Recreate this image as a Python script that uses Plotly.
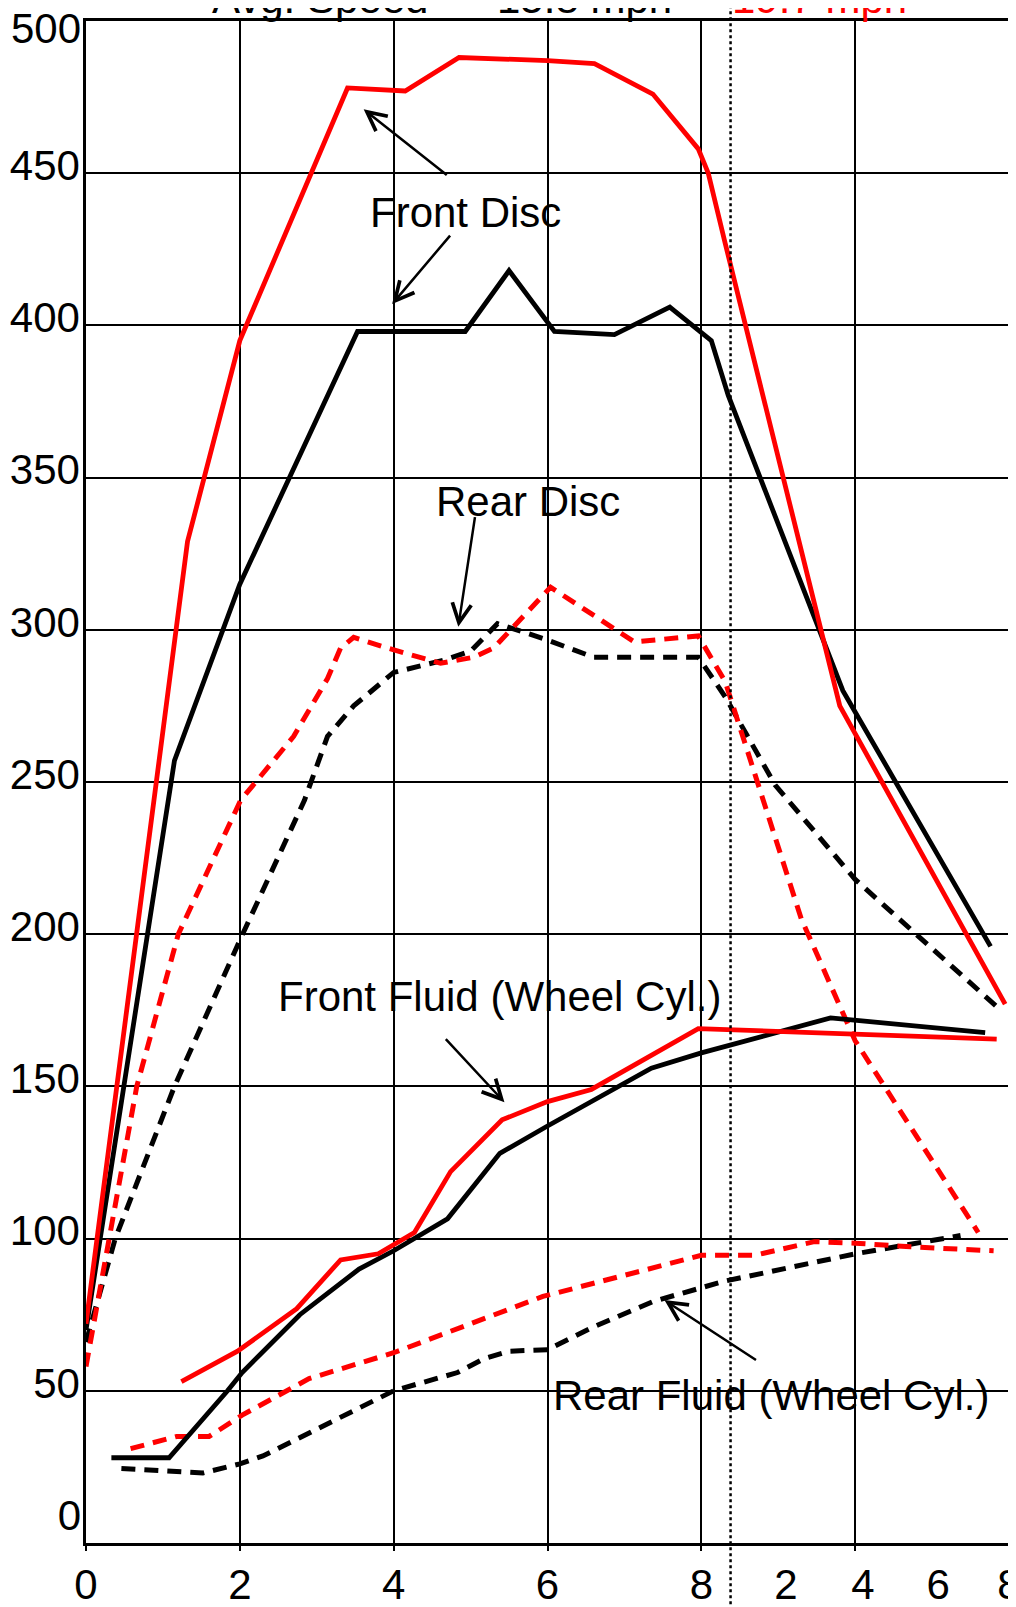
import plotly.graph_objects as go

# ---- data (time in minutes on a 0-12 scale, temperature) ----
fd_red_x = [0, 1.32, 2.0, 3.4, 4.15, 4.85, 6.0, 6.61, 7.37, 7.96, 8.09, 8.31, 9.8, 11.95]
fd_red_y = [72, 329, 395, 478, 477, 488, 487, 486, 476, 458, 450, 427, 275, 177]

fd_blk_x = [0, 1.15, 2.0, 3.53, 4.93, 5.5, 6.09, 6.87, 7.59, 8.13, 8.35, 9.84, 11.76]
fd_blk_y = [70, 257, 315, 398, 398, 418, 398, 397, 406, 395, 377, 280, 196]

rd_red_x = [0, 0.66, 1.2, 2.01, 2.7, 3.14, 3.31, 3.48, 3.92, 4.61, 5.04, 5.3, 6.04, 7.13, 7.96, 8.31, 9.3, 10.0, 11.6]
rd_red_y = [58, 150, 200, 244, 265, 284, 294, 297.5, 294, 289, 291, 294, 314, 296, 298, 283, 205, 165, 102]

rd_blk_x = [0, 0.38, 1.15, 2.0, 2.84, 3.14, 3.48, 4.0, 4.65, 5.0, 5.35, 5.96, 6.6, 7.96, 8.31, 8.96, 10.0, 11.85]
rd_blk_y = [66, 100, 150, 198, 244, 265, 275, 286, 290, 293, 302, 297, 291, 291, 278, 249, 218, 176]

ff_red_x = [1.24, 1.97, 2.74, 3.31, 3.8, 4.27, 4.74, 5.41, 6.0, 6.57, 7.96, 11.84]
ff_red_y = [53, 63, 77, 93, 95, 102, 122, 139, 145, 149, 169, 165.5]

ff_blk_x = [0.33, 1.08, 1.84, 2.03, 2.78, 3.55, 4.0, 4.7, 5.38, 6.0, 7.35, 8.0, 9.68, 11.69]
ff_blk_y = [28, 28, 50, 56, 75, 90, 96, 106.5, 128, 137, 156, 161, 172.5, 167.7]

rf_red_x = [0.58, 1.18, 1.6, 2.03, 2.9, 4.0, 5.94, 8.0, 8.69, 9.47, 10.0, 10.72, 11.8]
rf_red_y = [31, 35, 35, 42, 54, 62.5, 81, 94.5, 94.5, 99, 98.5, 97.3, 96]

rf_blk_x = [0.46, 1.52, 2.0, 2.3, 4.0, 4.83, 5.17, 5.5, 6.0, 6.6, 7.38, 8.3, 10.0, 11.37]
rf_blk_y = [24.5, 23, 26, 28.6, 50, 56, 60.5, 63, 63.5, 71, 79.4, 86, 95, 101]

x_label_vals = [0, 2, 4, 6, 8, 9.1, 10.1, 11.08, 12]
x_label_text = ["0", "2", "4", "6", "8", "2", "4", "6", "8"]
y_ticks = list(range(0, 501, 50))
y_mid_ticks = y_ticks[1:-1]          # 50 .. 450, labels sit a little above their lines
y_end_vals = [9, 497.7]              # label spots for "0" and "500" as placed in the source
y_end_text = ["0", "500"]
split_x = 8.38

FONT = "Liberation Sans, Arial, sans-serif"
RED = "#ff0000"
BLK = "#000000"

fig = go.Figure()

def add(x, y, color, dash=None, width=4.8):
    fig.add_trace(go.Scatter(x=x, y=y, mode="lines",
                             line=dict(color=color, width=width, dash=dash),
                             showlegend=False, hoverinfo="skip"))

add(rd_blk_x, rd_blk_y, BLK, "14px,9px", 5)
add(rd_red_x, rd_red_y, RED, "14px,9px", 5)
add(rf_blk_x, rf_blk_y, BLK, "14px,9px", 5)
add(rf_red_x, rf_red_y, RED, "14px,9px", 5)
add(fd_blk_x, fd_blk_y, BLK)
add(fd_red_x, fd_red_y, RED)
add(ff_blk_x, ff_blk_y, BLK)
add(ff_red_x, ff_red_y, RED)

# invisible traces to activate the label axes
fig.add_trace(go.Scatter(x=[0], y=[0], xaxis="x2", mode="markers",
                         marker=dict(opacity=0), showlegend=False, hoverinfo="skip"))
fig.add_trace(go.Scatter(x=[0], y=[0], yaxis="y2", mode="markers",
                         marker=dict(opacity=0), showlegend=False, hoverinfo="skip"))

tickfont = dict(family=FONT, size=42, color="black")

fig.update_layout(
    width=1016, height=1607,
    margin=dict(l=78, r=15, t=13, b=72, autoexpand=False),
    paper_bgcolor="white", plot_bgcolor="white",
    font=dict(family=FONT, size=42, color="black"),
    xaxis=dict(range=[0, 12], tick0=0, dtick=2, showgrid=True, gridcolor="black",
               gridwidth=2, showticklabels=False, ticks="outside", ticklen=5,
               tickwidth=2, tickcolor="black", showline=True, linecolor="black",
               linewidth=2.5, mirror=True, zeroline=False, automargin=False),
    xaxis2=dict(range=[0, 12], overlaying="x", anchor="y", side="bottom",
                tickmode="array", tickvals=x_label_vals, ticktext=x_label_text,
                showgrid=False, zeroline=False, showline=False, ticks="",
                tickfont=tickfont, ticklabelstandoff=13,
                ticklabeloverflow="allow", automargin=False),
    yaxis=dict(range=[0, 500], tickmode="array", tickvals=y_ticks,
               ticktext=[str(v) if v in y_mid_ticks else "" for v in y_ticks],
               showgrid=True, gridcolor="black", gridwidth=2,
               showline=True, linecolor="black", linewidth=2.5, mirror=True,
               zeroline=False, ticks="", ticklabelstandoff=-5, ticklabelshift=-8,
               ticklabeloverflow="allow", automargin=False, tickfont=tickfont),
    yaxis2=dict(range=[0, 500], overlaying="y", anchor="x", side="left",
                tickmode="array", tickvals=y_end_vals, ticktext=y_end_text,
                showgrid=False, zeroline=False, showline=False, ticks="",
                ticklabelstandoff=4, ticklabeloverflow="allow", automargin=False,
                tickfont=tickfont),
)

# dotted split line across the whole page height
fig.add_shape(type="line", xref="x", yref="paper", x0=split_x, x1=split_x,
              y0=-0.06, y1=1.03, line=dict(color="black", width=2.5, dash="dot"))

# header (cut at the top of the page)
hdr_y = 1.0145
fig.add_annotation(text="Avg. Speed", xref="paper", yref="paper", x=0.134, y=hdr_y,
                   xanchor="left", yanchor="middle", showarrow=False,
                   font=dict(size=42, color="black"))
fig.add_annotation(text="15.8 mph", xref="paper", yref="paper", x=0.443, y=hdr_y,
                   xanchor="left", yanchor="middle", showarrow=False,
                   font=dict(size=42, color="black"))
fig.add_annotation(text="19.7 mph", xref="paper", yref="paper", x=0.698, y=hdr_y,
                   xanchor="left", yanchor="middle", showarrow=False,
                   font=dict(size=42, color=RED))

# labels
labels = [
    ("Front Disc", 4.94, 437),
    ("Rear Disc", 5.75, 342),
    ("Front Fluid (Wheel Cyl.)", 5.38, 179.6),
    ("Rear Fluid (Wheel Cyl.)", 8.91, 48.3),
]
for t, lx, ly in labels:
    fig.add_annotation(text=t, x=lx, y=ly, xref="x", yref="y", showarrow=False,
                       font=dict(size=42, color="black"))

arrows = [
    (3.61, 471, 4.71, 449),
    (3.98, 407, 4.75, 430),
    (4.84, 301, 5.06, 337.5),
    (5.44, 144.8, 4.66, 166),
    (7.52, 79.8, 8.73, 59.8),
]
for hx, hy, tx, ty in arrows:
    fig.add_annotation(x=hx, y=hy, ax=tx, ay=ty, xref="x", yref="y",
                       axref="x", ayref="y", text="", showarrow=True,
                       arrowhead=5, arrowsize=1.5, arrowwidth=2.5, arrowcolor="black")

fig.write_html("out.html")
